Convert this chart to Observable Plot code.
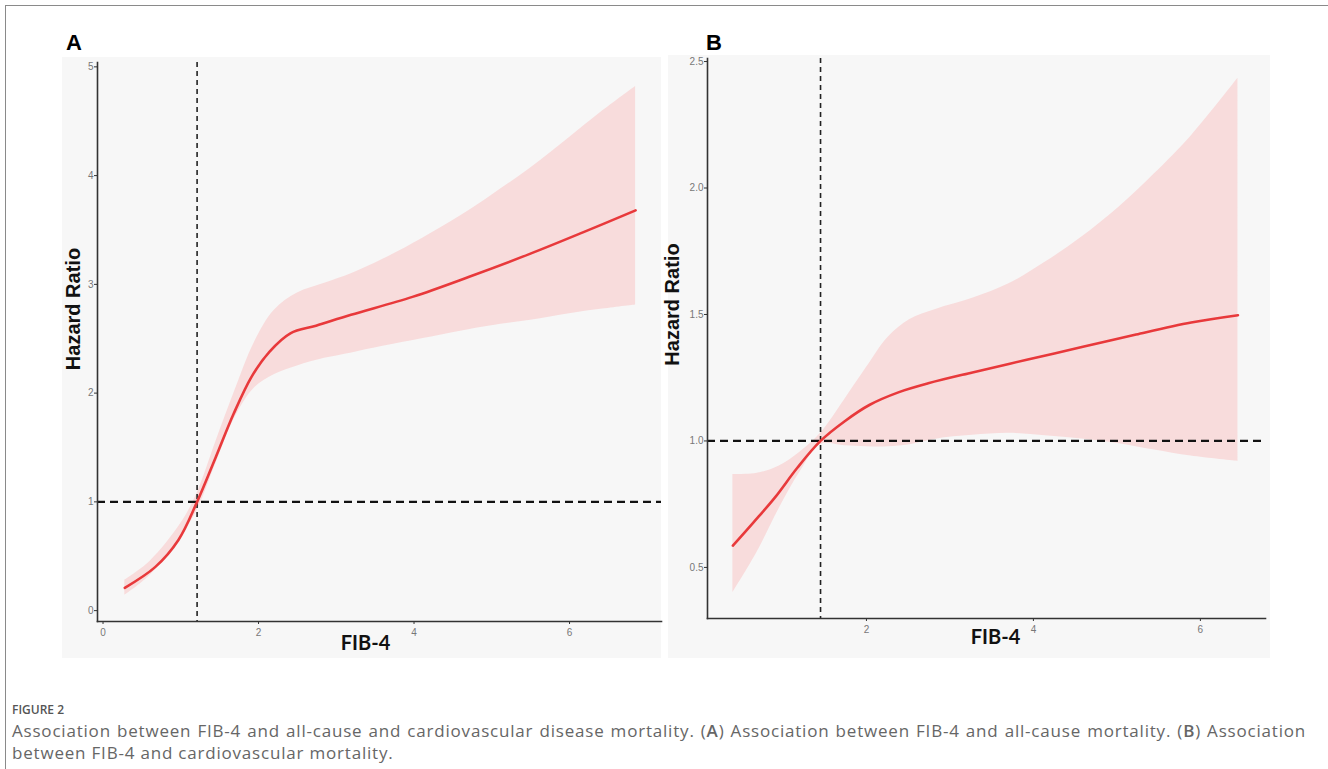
<!DOCTYPE html>
<html>
<head>
<meta charset="utf-8">
<script src="https://cdn.jsdelivr.net/npm/d3@7"></script>
<script src="https://cdn.jsdelivr.net/npm/@observablehq/plot@0.6"></script>
<style>
  html, body { margin: 0; padding: 0; background: #fff; width: 1328px; height: 769px; overflow: hidden; }
  #frame { position: absolute; left: 5px; top: 5px; width: 1340px; height: 800px; border-left: 1.5px solid #8a8a8a; border-top: 1.5px solid #8a8a8a; }
  .panel { position: absolute; }
  .letter { position: absolute; font-family: "Liberation Sans", Arial, sans-serif; font-weight: bold; font-size: 22px; line-height: 22px; color: #000; }
  #figlabel { position: absolute; left: 12px; top: 703px; font-family: "Open Sans", sans-serif; font-weight: 600; font-size: 12px; line-height: 14px; color: #555; }
  #caption { position: absolute; left: 12px; top: 720px; width: 1294px; font-family: "Open Sans", sans-serif; font-size: 17px; letter-spacing: 0.8px; line-height: 22px; color: #666; }
  #caption .l1 { text-align: justify; text-align-last: justify; white-space: nowrap; }
  #caption b { font-weight: 600; }
</style>
</head>
<body>
<div id="frame"></div>
<div class="letter" style="left:66px; top:32px;">A</div>
<div class="letter" style="left:706px; top:32px;">B</div>
<div id="panelA" class="panel" style="left:62px; top:57px;"></div>
<div id="panelB" class="panel" style="left:668px; top:55px;"></div>
<div id="figlabel">FIGURE 2</div>
<div id="caption">
  <div class="l1">Association between FIB-4 and all-cause and cardiovascular disease mortality. (<b>A</b>) Association between FIB-4 and all-cause mortality. (<b>B</b>) Association</div>
  <div>between FIB-4 and cardiovascular mortality.</div>
</div>
<script>
// ---------- Panel A: all-cause mortality ----------
const lineA_fib = [0.28, 0.67, 0.97, 1.21, 1.45, 1.68, 1.91, 2.14, 2.41, 2.74, 3.19, 3.98, 4.71, 5.49, 6.18, 6.85];
const lineA_hr  = [0.21, 0.40, 0.65, 1.00, 1.41, 1.81, 2.15, 2.38, 2.55, 2.62, 2.72, 2.885, 3.07, 3.28, 3.48, 3.68];

const bandA_fib = [0.28, 0.6, 1.0, 1.21, 1.45, 1.7, 1.95, 2.2, 2.5, 2.85, 3.2, 3.6, 4.1, 4.6, 5.0, 5.5, 6.0, 6.4, 6.85];
const bandA_lo  = [0.14, 0.32, 0.68, 0.92, 1.35, 1.78, 2.05, 2.17, 2.25, 2.32, 2.37, 2.43, 2.50, 2.57, 2.62, 2.67, 2.73, 2.77, 2.81];
const bandA_hi  = [0.28, 0.45, 0.80, 1.08, 1.55, 2.03, 2.47, 2.76, 2.92, 3.01, 3.10, 3.23, 3.42, 3.63, 3.82, 4.07, 4.35, 4.58, 4.82];

const cutA = 1.21;
const xTicksA = [0, 2, 4, 6];
const yTicksA = [0, 1, 2, 3, 4, 5];

// ---------- Panel B: cardiovascular mortality ----------
const lineB_fib = [0.40, 0.65, 0.91, 1.17, 1.45, 1.74, 2.04, 2.39, 2.74, 3.27, 3.92, 4.58, 5.23, 5.89, 6.45];
const lineB_hr  = [0.586, 0.679, 0.779, 0.893, 1.0, 1.078, 1.143, 1.193, 1.228, 1.271, 1.321, 1.371, 1.421, 1.468, 1.497];

const bandB_fib = [0.40, 0.69, 0.95, 1.21, 1.45, 1.74, 2.0, 2.26, 2.52, 2.83, 3.27, 3.70, 4.14, 4.58, 5.01, 5.45, 5.89, 6.45];
const bandB_lo  = [0.40, 0.56, 0.73, 0.88, 0.986, 0.981, 0.977, 0.977, 0.985, 1.007, 1.022, 1.03, 1.021, 1.008, 0.99, 0.964, 0.94, 0.919];
const bandB_hi  = [0.867, 0.872, 0.90, 0.957, 1.03, 1.164, 1.29, 1.41, 1.48, 1.52, 1.564, 1.62, 1.706, 1.806, 1.92, 2.056, 2.206, 2.434];

const cutB = 1.45;
const xTicksB = [2, 4, 6];
const yTicksB = [0.5, 1.0, 1.5, 2.0, 2.5];

const xLabel = "FIB-4";
const yLabel = "Hazard Ratio";

const LINE_COLOR = "#e8393b";
const BAND_COLOR = "#f8dcdc";
const BG = "#f7f7f7";

function zip(xs, ys) { return xs.map((x, i) => ({x, y: ys[i]})); }
function zipBand(xs, lo, hi) { return xs.map((x, i) => ({x, lo: lo[i], hi: hi[i]})); }

function panel(cfg) {
  const tickFont = {fontSize: 10, tickSize: 3, stroke: "#333", fill: "#777"};
  return Plot.plot({
    width: cfg.width, height: cfg.height,
    marginLeft: cfg.ml, marginRight: cfg.mr, marginTop: cfg.mt, marginBottom: cfg.mb,
    style: {background: BG, fontFamily: "'Liberation Sans', Arial, sans-serif", overflow: "visible"},
    x: {domain: cfg.xdom},
    y: {domain: cfg.ydom},
    marks: [
      Plot.areaY(zipBand(cfg.bx, cfg.blo, cfg.bhi), {x: "x", y1: "lo", y2: "hi", fill: BAND_COLOR, curve: "catmull-rom"}),
      Plot.ruleX([cfg.cut], {stroke: "#222", strokeWidth: 1.6, strokeDasharray: "5,4"}),
      Plot.ruleY([1], {stroke: "#111", strokeWidth: 2.2, strokeDasharray: "8,5"}),
      Plot.line(zip(cfg.lx, cfg.ly), {x: "x", y: "y", stroke: LINE_COLOR, strokeWidth: 2.6, curve: "catmull-rom"}),
      Plot.axisX({ticks: cfg.xticks, tickPadding: 4, label: null, tickFormat: d3.format("d"), ...tickFont}),
      Plot.axisY({ticks: cfg.yticks, tickPadding: 1, label: null, tickFormat: cfg.yfmt, ...tickFont}),
      Plot.frame({anchor: "left", stroke: "#333", strokeWidth: 1.6}),
      Plot.frame({anchor: "bottom", stroke: "#333", strokeWidth: 1.6}),
      Plot.text([xLabel], {frameAnchor: "bottom", dx: cfg.xlabDx, dy: cfg.xlabDy, lineAnchor: "middle", textAnchor: "middle",
        fontSize: 20, fontWeight: "bold", fontFamily: "Lato, 'Open Sans', sans-serif", fill: "#111"}),
      Plot.text([yLabel], {frameAnchor: "left", rotate: -90, dx: cfg.ylabDx, dy: cfg.ylabDy, lineAnchor: "middle", textAnchor: "middle",
        fontSize: 20, fontWeight: "bold", fill: "#111"})
    ]
  });
}

document.getElementById("panelA").append(panel({
  width: 599, height: 601, ml: 35, mr: 0, mt: 5, mb: 37,
  xdom: [-0.071, 7.183], ydom: [-0.1, 5.04],
  bx: bandA_fib, blo: bandA_lo, bhi: bandA_hi,
  lx: lineA_fib, ly: lineA_hr, cut: cutA,
  xticks: xTicksA, yticks: yTicksA, yfmt: d3.format("d"),
  xlabDx: -14, xlabDy: 22, ylabDx: -24, ylabDy: -33
}));

document.getElementById("panelB").append(panel({
  width: 602, height: 603, ml: 39, mr: 5, mt: 3, mb: 40,
  xdom: [0.096, 6.78], ydom: [0.298, 2.512],
  bx: bandB_fib, blo: bandB_lo, bhi: bandB_hi,
  lx: lineB_fib, ly: lineB_hr, cut: cutB,
  xticks: xTicksB, yticks: yTicksB, yfmt: d3.format(".1f"),
  xlabDx: 9, xlabDy: 19, ylabDx: -35, ylabDy: -34
}));
</script>
</body>
</html>
